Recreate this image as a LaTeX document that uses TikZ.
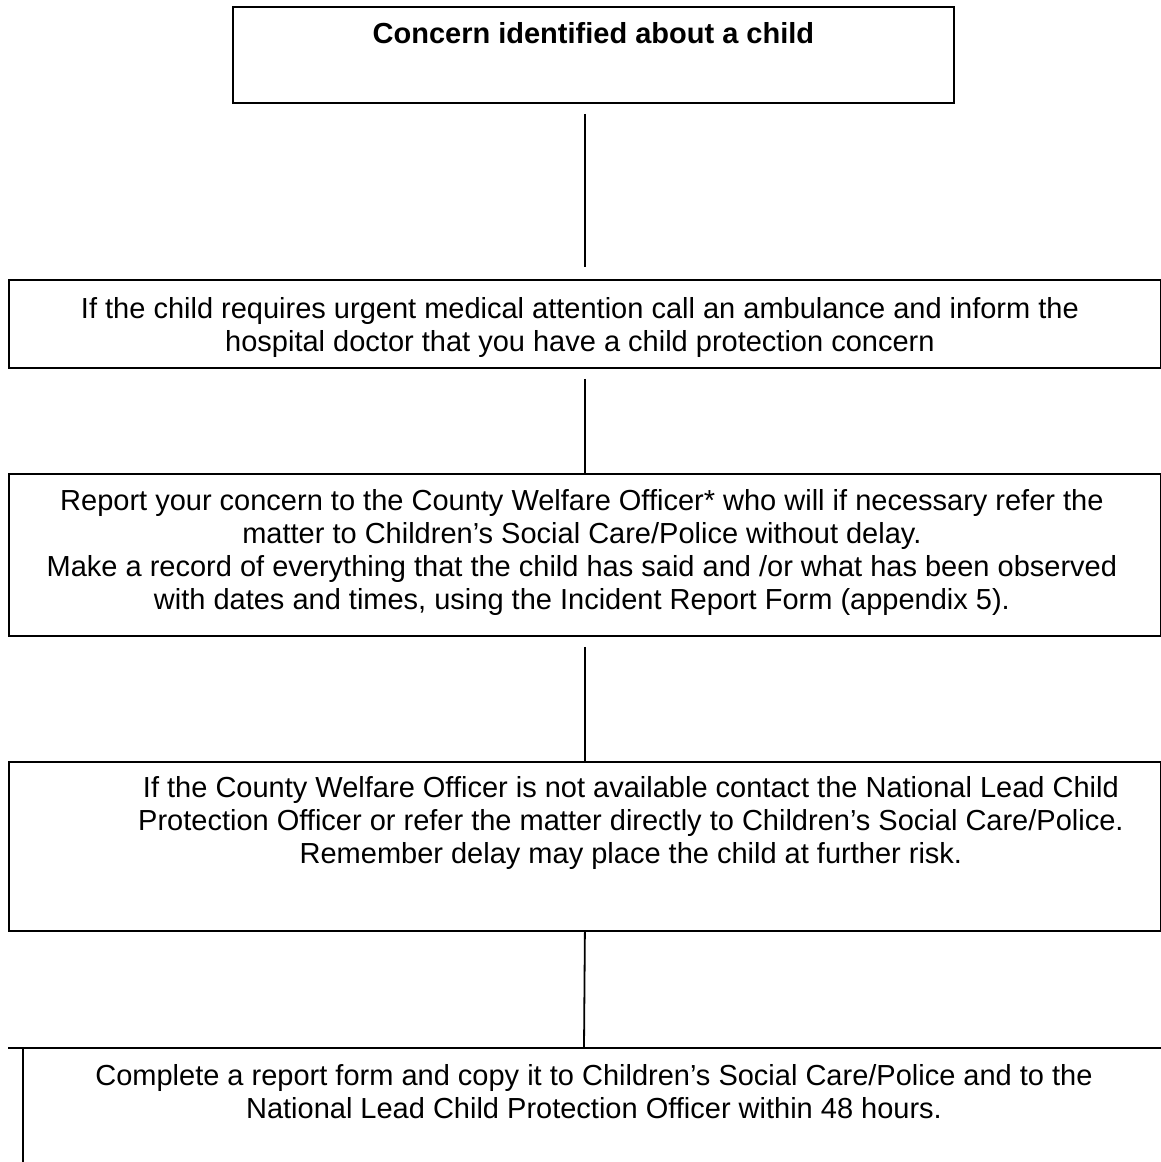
\documentclass[tikz,border=0pt]{standalone}
\usepackage{fontspec}
\setmainfont{Liberation Sans}
\usetikzlibrary{positioning}
\tikzset{
	box/.style={draw, line width=1.8pt, inner sep=0pt, anchor=north west},
	txt/.style={font=\fontsize{29}{33}\selectfont, align=center, inner sep=0pt},
	link/.style={line width=1.8pt}
}

\begin{document}
\begin{tikzpicture}[x=1pt, y=-1pt]
		%%%%% START %%%%%
		\useasboundingbox (0, 0) rectangle (1161, 1162);
		
		% boxes
		\node[box, minimum width=721pt, minimum height=96pt] (concern) at (232, 6) {};
		\node[box, minimum width=1152pt, minimum height=88pt] (medical) at (8, 279) {};
		\node[box, minimum width=1152pt, minimum height=162pt] (report) at (8, 473) {};
		\node[box, minimum width=1152pt, minimum height=169pt] (unavailable) at (8, 761) {};
		
		% last box, cut off at the bottom
		\coordinate (completetop) at (584, 1048);
		\draw[link] (8, 1048) -- (1161, 1048);
		\draw[link] (23, 1048) -- (23, 1162);
		
		% texts
		\node[txt, font=\fontsize{29}{33}\selectfont\bfseries, below=16pt of concern.north] (concerntext) {Concern identified about a child};
		\node[txt, below=18pt of medical.north, xshift=-5pt] (medicaltext) {If the child requires urgent medical attention call an ambulance and inform the\\hospital doctor that you have a child protection concern};
		\node[txt, below=16pt of report.north, xshift=-3pt] (reporttext) {Report your concern to the County Welfare Officer* who will if necessary refer the\\matter to Children’s Social Care/Police without delay.\\Make a record of everything that the child has said and /or what has been observed\\with dates and times, using the Incident Report Form (appendix 5).};
		\node[txt, below=15pt of unavailable.north, xshift=46pt] (unavailabletext) {If the County Welfare Officer is not available contact the National Lead Child\\Protection Officer or refer the matter directly to Children’s Social Care/Police.\\Remember delay may place the child at further risk.};
		\node[txt, below=16pt of completetop, xshift=10pt] (completetext) {Complete a report form and copy it to Children’s Social Care/Police and to the\\National Lead Child Protection Officer within 48 hours.};
		
		% connectors
		\draw[link, shorten <=10pt, shorten >=12pt] (medical.north |- concern.south) -- (medical.north);
		\draw[link, shorten <=10pt] (medical.south) -- (report.north);
		\draw[link, shorten <=10pt] (report.south) -- (unavailable.north);
		\draw[link] (unavailable.south) -- (completetop);
		
		%%%%% END %%%%%
\end{tikzpicture}
\end{document}
